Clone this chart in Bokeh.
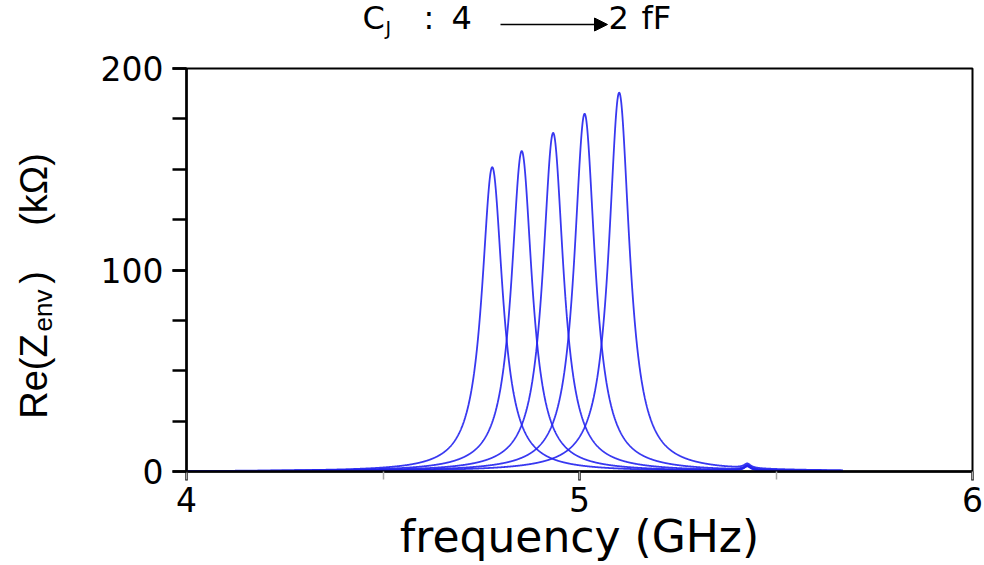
import numpy as np
from math import pi
from bokeh.plotting import figure
from bokeh.layouts import column, row
from bokeh.models import (Range1d, SingleIntervalTicker, Label, Arrow, NormalHead,
                          ColumnDataSource)
from bokeh.embed import file_html
from bokeh.resources import INLINE

# ---- values ----
# one resonance per junction capacitance, C_J stepping from 4 fF down to 2 fF
cj_fF = [4.0, 3.5, 3.0, 2.5, 2.0]
peak_freq_ghz = [4.778, 4.853, 4.933, 5.013, 5.101]
peak_height_kohm = [151.0, 159.0, 168.0, 177.5, 188.0]
peak_hwhm_ghz = [0.032, 0.032, 0.032, 0.032, 0.032]
# small spurious mode common to all traces
spur_freq_ghz = 5.427
spur_height_kohm = 2.2
spur_hwhm_ghz = 0.011
# sweep extent of the traces
sweep_ghz = [4.0, 5.67]
x_ticks = [4, 5, 6]
y_ticks = [0, 100, 200]

W, H = 984, 565
T = 44          # title strip height
LW = 62         # y-label strip width
FL, FR, FT, FB = 186, 12, 68, 94  # frame position within the whole page


def blank(width, height, xr, yr, **kw):
    f = figure(width=width, height=height, x_range=Range1d(*xr), y_range=Range1d(*yr),
               x_axis_location=None, y_axis_location=None, toolbar_location=None,
               output_backend="svg", outline_line_color=None,
               background_fill_color="white", border_fill_color="white", **kw)
    f.grid.visible = False
    return f


# ---------- main plot ----------
p = figure(width=W - LW, height=H - T, x_range=Range1d(x_ticks[0], x_ticks[-1]),
           y_range=Range1d(y_ticks[0], y_ticks[-1]),
           output_backend="svg", toolbar_location=None,
           min_border_left=FL - LW, min_border_right=FR, min_border_top=FT - T,
           min_border_bottom=FB,
           background_fill_color="white", border_fill_color="white")
p.grid.visible = False
p.outline_line_color = "black"
p.outline_line_width = 2

f = np.linspace(sweep_ghz[0], sweep_ghz[1], 3000)
for c, f0, h, g in zip(cj_fF, peak_freq_ghz, peak_height_kohm, peak_hwhm_ghz):
    z = h * g**2 / ((f - f0)**2 + g**2)
    z = z + spur_height_kohm * spur_hwhm_ghz**2 / ((f - spur_freq_ghz)**2 + spur_hwhm_ghz**2)
    src = ColumnDataSource(dict(f=f, z=z))
    p.line("f", "z", source=src, line_color="#2222ee", line_alpha=0.9, line_width=1.8)

xa = p.xaxis[0]
xa.ticker = SingleIntervalTicker(interval=x_ticks[1] - x_ticks[0], num_minor_ticks=2)
xa.axis_line_width = 2.5
xa.axis_line_color = "black"
xa.major_tick_line_width = 2.5
xa.major_tick_out = 9
xa.major_tick_in = 0
xa.minor_tick_line_color = "#aaaaaa"
xa.minor_tick_line_width = 1.5
xa.minor_tick_out = 8
xa.minor_tick_in = 0
xa.major_label_text_font = "DejaVu Sans"
xa.major_label_text_font_size = "33px"
xa.major_label_text_color = "black"
xa.major_label_standoff = 6
xa.axis_label = "frequency (GHz)"
xa.axis_label_text_font = "DejaVu Sans"
xa.axis_label_text_font_size = "44px"
xa.axis_label_text_font_style = "normal"
xa.axis_label_text_color = "black"
xa.axis_label_standoff = -4

ya = p.yaxis[0]
ya.ticker = SingleIntervalTicker(interval=y_ticks[1] - y_ticks[0], num_minor_ticks=4)
ya.axis_line_width = 2.5
ya.axis_line_color = "black"
ya.major_tick_line_width = 2.5
ya.major_tick_out = 14
ya.major_tick_in = 0
ya.minor_tick_line_color = "black"
ya.minor_tick_line_width = 2.5
ya.minor_tick_out = 14
ya.minor_tick_in = 0
ya.major_label_text_font = "DejaVu Sans"
ya.major_label_text_font_size = "33px"
ya.major_label_text_color = "black"
ya.major_label_standoff = 9


def lab(fig, text, x, y, size, font="DejaVu Sans", angle=0.0, align="left"):
    fig.add_layout(Label(x=x, y=y, text=text, text_font=font, text_font_size=f"{size}px",
                         text_color="black", angle=angle, text_align=align,
                         text_baseline="alphabetic"))


# ---------- title strip (data coords == page pixels, y downward) ----------
tf = blank(W, T, (0, W), (T, 0), min_border=0)
lab(tf, "C", 362, 17, 32)
lab(tf, "J", 385, 27, 19)
lab(tf, ":", 423, 17, 32)
lab(tf, f"{cj_fF[0]:g}", 451, 17, 32)
lab(tf, f"{cj_fF[-1]:g}", 608, 17, 32)
lab(tf, "fF", 641, 17, 32)
tf.add_layout(Arrow(x_start=500, y_start=24, x_end=607, y_end=24,
                    line_color="black", line_width=1.5,
                    end=NormalHead(size=13, fill_color="black", line_color="black")))

# ---------- y-label strip: frame shares the main plot's top/bottom borders ----------
yf = blank(LW, H - T, (0, LW), (H - FB, FT), min_border_left=0, min_border_right=0,
           min_border_top=FT - T, min_border_bottom=FB)
lab(yf, "Re(Z", 33, 376, 38, font="Liberation Sans", angle=pi / 2, align="center")
lab(yf, "env", 42, 310, 26, font="Liberation Sans", angle=pi / 2, align="center")
lab(yf, ")", 33, 277, 38, font="Liberation Sans", angle=pi / 2, align="center")
lab(yf, "(kΩ)", 33, 189, 38, font="Liberation Sans", angle=pi / 2, align="center")

layout = column(tf, row(yf, p, spacing=0), spacing=0)
open("out.html", "w").write(file_html(layout, INLINE))
